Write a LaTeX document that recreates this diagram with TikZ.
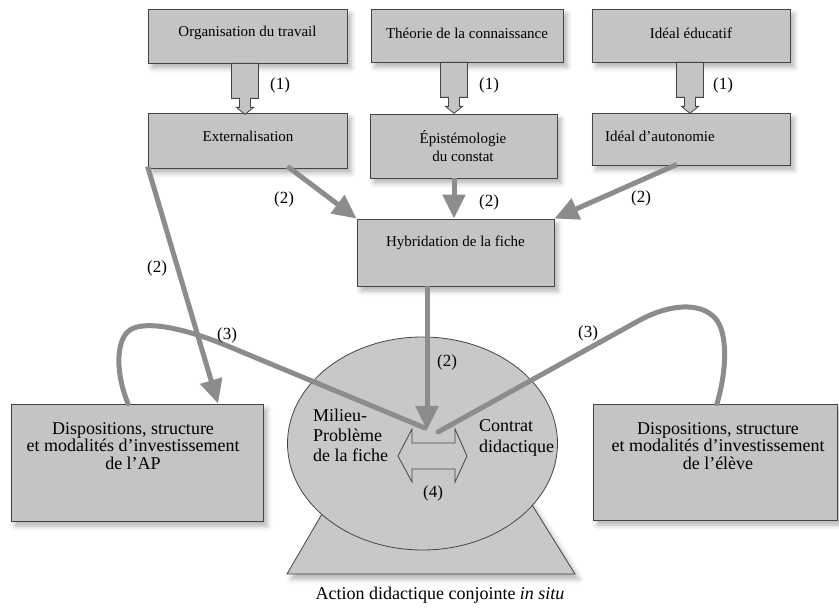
\documentclass[tikz,border=0pt]{standalone}
\usepackage{fontspec}
\setmainfont{Liberation Serif}
\usetikzlibrary{arrows.meta,shapes.geometric,shadows.blur}
\definecolor{boxfill}{RGB}{196,196,198}
\definecolor{ellfill}{RGB}{200,200,202}
\definecolor{edge}{RGB}{68,68,68}
\definecolor{arrgray}{RGB}{140,140,140}
\begin{document}
\begin{tikzpicture}[x=1pt,y=-1pt,
  shd/.style={blur shadow={shadow xshift=4pt,shadow yshift=-5pt,shadow blur radius=5pt,shadow opacity=30}},
  box/.style={draw=edge,line width=0.8pt,fill=boxfill,inner sep=0pt,shd},
  small/.style={font=\fontsize{15}{18}\selectfont,inner sep=0pt,align=center},
  big/.style={font=\fontsize{18}{17.5}\selectfont,inner sep=0pt,align=center},
  lab/.style={font=\fontsize{17}{19}\selectfont,inner sep=0pt},
  conn/.style={draw=arrgray,line width=5pt,-{Triangle[length=24pt,width=22pt]}},
  loopline/.style={draw=arrgray,line width=5pt,line cap=round},
  hollow/.style={draw=edge,line width=0.8pt,fill=boxfill,line join=miter},
]
\useasboundingbox (0,0) rectangle (839,609);

% top row
\node[box,minimum width=199,minimum height=54] (org) at (247.5,36) {};
\node[box,minimum width=192,minimum height=53] (theo) at (467,35.5) {};
\node[box,minimum width=198,minimum height=53] (ideal) at (691,35.5) {};
\node[small] (orgT) at (247.5,33) {Organisation du travail};
\node[small] (theoT) at (467,33) {Théorie de la connaissance};
\node[small] (idealT) at (691,33) {Idéal éducatif};

% second row
\node[box,minimum width=199,minimum height=55] (ext) at (247.5,140.5) {};
\node[box,minimum width=187,minimum height=64] (epi) at (463.5,146) {};
\node[box,minimum width=198,minimum height=52] (auto) at (691,139) {};
\node[small] (extT) at (248,136) {Externalisation};
\node[small] (epiT) at (463,146.5) {Épistémologie\\du constat};
\node[small,anchor=west] (autoT) at (605,136) {Idéal d’autonomie};

% hybridation
\node[box,minimum width=197,minimum height=67] (hyb) at (455.5,252.5) {};
\node[small] (hybT) at (455.5,243) {Hybridation de la fiche};

% bottom boxes
\node[box,minimum width=252,minimum height=117] (ap) at (137,462.5) {};
\node[big] (apT) at (133,446) {Dispositions, structure\\et modalités d’investissement\\de l’AP};
\node[box,minimum width=244,minimum height=116] (eleve) at (715,462) {};
\node[big] (eleveT) at (718,446) {Dispositions, structure\\et modalités d’investissement\\de l’élève};

% base and ellipse
\path[fill=ellfill,shd] (326,507) -- (287,574) -- (575,574) -- (529,500) -- (422,470) -- cycle;
\draw[edge,line width=0.8pt,line join=miter] (326,507) -- (287,574) -- (575,574) -- (529,500);
\node[draw=edge,fill=ellfill,ellipse,minimum width=270,minimum height=213,inner sep=0pt,line width=0.8pt] (ell) at (422.5,443.5) {};
\node[big,align=left,anchor=west,font=\fontsize{18}{20}\selectfont] (milT) at (313,435) {Milieu-\\Problème\\de la fiche};
\node[big,align=left,anchor=west,font=\fontsize{18}{21}\selectfont] (conT) at (479,437.5) {Contrat\\didactique};
\node[big] (cap) at (440,595) {Action didactique conjointe \textit{in situ}};

% hollow arrows (1)
\draw[hollow,shift={([xshift=-2.5pt]org.south)}] (-13.5,0) -- (13.5,0) -- (13.5,35) -- (5.5,35) -- (5.5,44) -- (8.5,44) -- (0,51) -- (-8.5,44) -- (-5.5,44) -- (-5.5,35) -- (-13.5,35) -- cycle;
\draw[hollow,shift={([xshift=-13pt]theo.south)}] (-13.5,0) -- (13.5,0) -- (13.5,35) -- (5.5,35) -- (5.5,44) -- (8.5,44) -- (0,51) -- (-8.5,44) -- (-5.5,44) -- (-5.5,35) -- (-13.5,35) -- cycle;
\draw[hollow,shift={([xshift=-1pt]ideal.south)}] (-13.5,0) -- (13.5,0) -- (13.5,35) -- (5.5,35) -- (5.5,44) -- (8.5,44) -- (0,51) -- (-8.5,44) -- (-5.5,44) -- (-5.5,35) -- (-13.5,35) -- cycle;
\node[lab] (l1a) at (280,85) {(1)};
\node[lab] (l1b) at (489,85) {(1)};
\node[lab] (l1c) at (723,85) {(1)};

% convergence points
\coordinate (ctr) at (427,430);
\coordinate (lc) at (425,428);
\coordinate (rc) at (438,432);

% arrows (2)
\draw[conn] ([xshift=40pt,yshift=2pt]ext.south) -- (hyb.north west);
\draw[conn] ([xshift=-9.5pt]epi.south) -- ([xshift=-9.5pt]epi.south |- hyb.north);
\draw[conn] ([xshift=-14pt,yshift=1pt]auto.south) -- (hyb.north east);
\draw[conn] ([yshift=2pt]ext.south west) -- ([xshift=81pt]ap.north);
\draw[conn] ([xshift=-28.5pt]hyb.south) -- (ctr);
\node[lab] (l2a) at (284,199) {(2)};
\node[lab] (l2b) at (489,202) {(2)};
\node[lab] (l2c) at (641,198) {(2)};
\node[lab] (l2d) at (157,268) {(2)};
\node[lab] (l2e) at (447,362) {(2)};

% loops (3)
\draw[loopline] (lc) -- (230,347) .. controls (185,328) and (145,320) .. (130,330) .. controls (115,340) and (116,375) .. ([xshift=-9pt]ap.north);
\draw[loopline] (rc) -- (640,320) .. controls (670,304) and (700,302) .. (715,318) .. controls (728,332) and (727,370) .. ([xshift=2pt]eleve.north);
\node[lab] (l3a) at (227,335) {(3)};
\node[lab] (l3b) at (588,333) {(3)};

% double arrow (4)
\coordinate (dbl) at (432.5,456);
\draw[hollow,fill=ellfill,shift={(dbl)}] (-34.5,0) -- (-20.5,-27) -- (-20.5,-13) -- (22.5,-13) -- (22.5,-27) -- (34.5,0) -- (22.5,26) -- (22.5,13) -- (-20.5,13) -- (-20.5,26) -- cycle;
\node[lab] (l4) at (433,493) {(4)};
\end{tikzpicture}
\end{document}
